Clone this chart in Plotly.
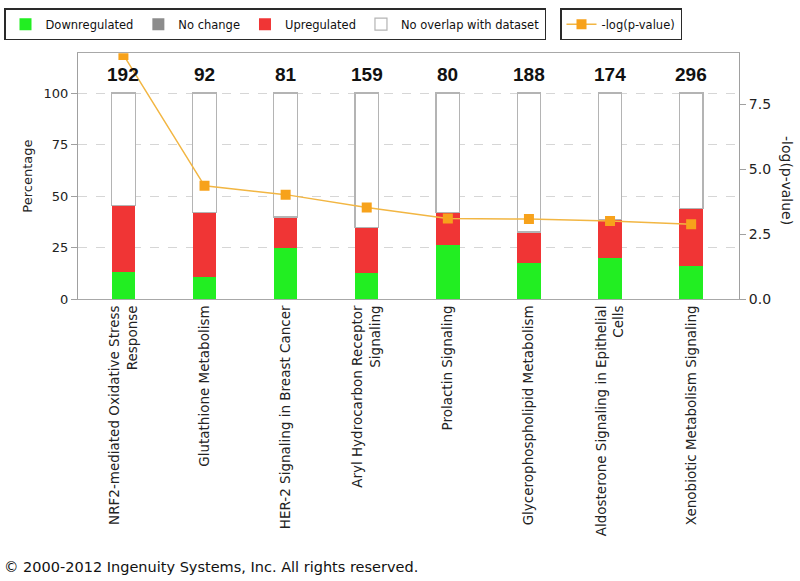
import plotly.graph_objects as go

categories = [
    "NRF2-mediated Oxidative Stress<br>Response",
    "Glutathione Metabolism",
    "HER-2 Signaling in Breast Cancer",
    "Aryl Hydrocarbon Receptor<br>Signaling",
    "Prolactin Signaling",
    "Glycerophospholipid Metabolism",
    "Aldosterone Signaling in Epithelial<br>Cells",
    "Xenobiotic Metabolism Signaling",
]
totals = [192, 92, 81, 159, 80, 188, 174, 296]
down_pct = [12.9, 10.5, 24.8, 12.7, 26.4, 17.6, 20.0, 16.0]
nochange_pct = [0, 0, 0, 0, 0, 0, 0, 0]
up_pct = [32.5, 31.7, 15.0, 22.1, 15.8, 14.9, 18.5, 27.8]
no_overlap_pct = [100 - d - n - u for d, n, u in zip(down_pct, nochange_pct, up_pct)]
neg_log_p = [9.40, 4.36, 4.02, 3.52, 3.10, 3.08, 3.00, 2.88]

FONT = "DejaVu Sans"
BAR_W = 0.29

fig = go.Figure()
fig.add_trace(go.Bar(x=categories, y=down_pct, name="Downregulated", width=BAR_W,
                     marker=dict(color="#22ee22", line=dict(width=0)), legend="legend"))
fig.add_trace(go.Bar(x=categories, y=nochange_pct, name="No change", width=BAR_W,
                     marker=dict(color="#8c8c8c", line=dict(width=0)), legend="legend"))
fig.add_trace(go.Bar(x=categories, y=up_pct, name="Upregulated", width=BAR_W,
                     marker=dict(color="#f03535", line=dict(width=0)), legend="legend"))
fig.add_trace(go.Bar(x=categories, y=no_overlap_pct, name="No overlap with dataset", width=BAR_W,
                     marker=dict(color="white", line=dict(color="#b4b4b4", width=1.2)), legend="legend"))
fig.add_trace(go.Scatter(x=categories, y=neg_log_p, name="-log(p-value)", yaxis="y2",
                         mode="lines+markers",
                         line=dict(color="#f2b643", width=1.5),
                         marker=dict(symbol="square", size=10, color="#f7a21b"),
                         legend="legend2"))

annotations = []
for c, t in zip(categories, totals):
    annotations.append(dict(x=c, y=109, xref="x", yref="y", text=str(t), showarrow=False,
                            font=dict(family="Liberation Sans", size=19, color="#111111", weight="bold")))
annotations.append(dict(x=1.0726, y=0.48, xref="paper", yref="paper", xanchor="center", yanchor="middle",
                        text="-log(p-value)", textangle=90, showarrow=False,
                        font=dict(family=FONT, size=14, color="#222222")))
annotations.append(dict(x=-0.115, y=-1.089, xref="paper", yref="paper", xanchor="left", yanchor="middle",
                        text="© 2000-2012 Ingenuity Systems, Inc. All rights reserved.", showarrow=False,
                        font=dict(family=FONT, size=14.5, color="#111111")))

fig.update_layout(
    width=800, height=581,
    margin=dict(l=78, r=61, t=52, b=282, pad=0),
    paper_bgcolor="white", plot_bgcolor="white",
    barmode="stack",
    font=dict(family=FONT, size=13, color="#222222"),
    showlegend=True,
    legend=dict(orientation="h", xref="container", yref="container", x=0.005, y=0.986,
                xanchor="left", yanchor="top", bordercolor="#2a2a2a", borderwidth=1.5,
                font=dict(family=FONT, size=11.5, color="#111111"), traceorder="normal",
                itemwidth=30, bgcolor="white"),
    legend2=dict(orientation="h", xref="container", yref="container", x=0.70, y=0.986,
                 xanchor="left", yanchor="top", bordercolor="#2a2a2a", borderwidth=1.5,
                 font=dict(family=FONT, size=11.5, color="#111111"), itemwidth=30, bgcolor="white"),
    xaxis=dict(range=[-0.56, 7.59], type="category", tickangle=-90, showline=True, mirror=True,
               linecolor="#a8a8a8", linewidth=1, ticks="", showgrid=False,
               tickfont=dict(family=FONT, size=13.5, color="#222222")),
    yaxis=dict(range=[0, 119.4], tickvals=[0, 25, 50, 75, 100], showline=True, linecolor="#a0a0a0",
               linewidth=1, ticks="outside", ticklen=6, tickcolor="#a0a0a0",
               showgrid=True, gridcolor="#d6d6d6", griddash="dash", gridwidth=1, zeroline=False,
               title=dict(text="Percentage", font=dict(family=FONT, size=13, color="#222222"), standoff=8),
               tickfont=dict(family=FONT, size=13, color="#222222")),
    yaxis2=dict(range=[0, 9.47], overlaying="y", side="right", tickvals=[0, 2.5, 5.0, 7.5],
                ticktext=["0.0", "2.5", "5.0", "7.5"], showline=True, linecolor="#a0a0a0", linewidth=1,
                ticks="outside", ticklen=6, tickcolor="#a0a0a0", showgrid=False, zeroline=False,
                tickfont=dict(family=FONT, size=14, color="#222222")),
    annotations=annotations,
)

fig.write_html("out.html", config={"displayModeBar": False},
               post_script="document.body.style.margin='0';")
